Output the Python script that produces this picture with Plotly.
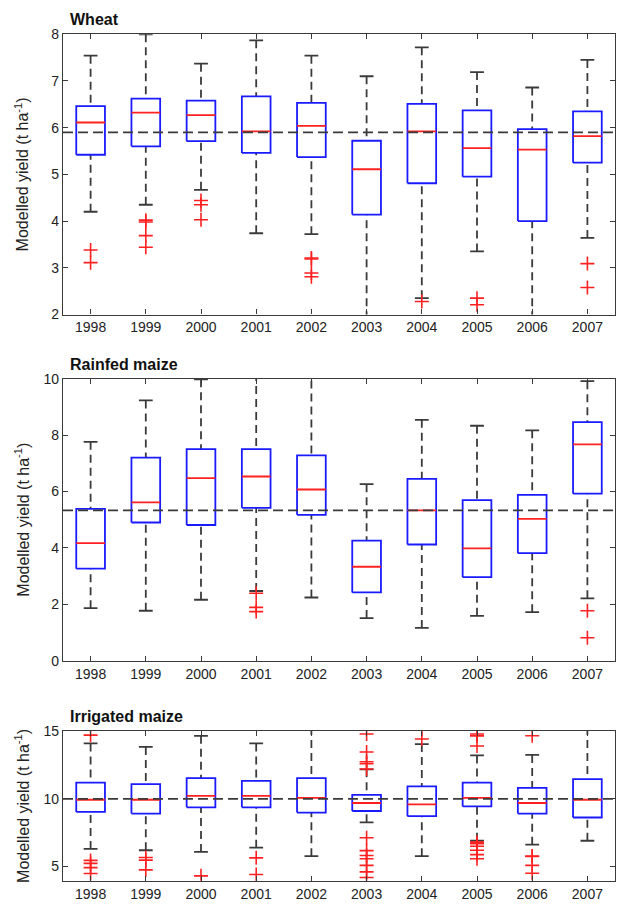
import plotly.graph_objects as go

years = ['1998', '1999', '2000', '2001', '2002', '2003', '2004', '2005', '2006', '2007']

# Wheat
wheat_q1 = [5.42, 5.60, 5.71, 5.46, 5.37, 4.14, 4.81, 4.95, 4.00, 5.25]
wheat_med = [6.11, 6.32, 6.27, 5.92, 6.04, 5.11, 5.92, 5.56, 5.53, 5.82]
wheat_q3 = [6.46, 6.62, 6.58, 6.67, 6.53, 5.72, 6.51, 6.37, 5.97, 6.35]
wheat_lo = [4.20, 4.35, 4.67, 3.74, 3.72, 1.90, 2.35, 3.35, 1.90, 3.64]
wheat_hi = [7.54, 8.00, 7.37, 7.87, 7.54, 7.10, 7.72, 7.19, 6.86, 7.45]
wheat_out = [[3.38, 3.11], [4.02, 3.98, 3.69, 3.44], [4.44, 4.35, 4.03], [],
             [3.21, 3.19, 2.89, 2.81], [], [2.28], [2.35, 2.21], [], [3.09, 2.58]]
wheat_ref = 5.9

# Rainfed maize
rain_q1 = [3.26, 4.90, 4.81, 5.42, 5.17, 2.42, 4.12, 2.96, 3.81, 5.92]
rain_med = [4.17, 5.61, 6.47, 6.53, 6.07, 3.33, 5.33, 3.98, 5.03, 7.67]
rain_q3 = [5.38, 7.20, 7.50, 7.50, 7.28, 4.26, 6.45, 5.69, 5.88, 8.46]
rain_lo = [1.86, 1.77, 2.16, 2.47, 2.24, 1.51, 1.16, 1.59, 1.72, 2.21]
rain_hi = [7.76, 9.23, 9.98, 10.2, 10.4, 6.26, 8.54, 8.33, 8.17, 9.91]
rain_out = [[], [], [], [2.39, 1.89, 1.74], [], [], [], [], [], [1.77, 0.81]]
rain_ref = 5.33

# Irrigated maize
irr_q1 = [9.03, 8.91, 9.37, 9.37, 8.98, 9.10, 8.72, 9.44, 8.91, 8.62]
irr_med = [9.93, 9.93, 10.22, 10.22, 10.07, 9.69, 9.59, 10.07, 9.69, 9.93]
irr_q3 = [11.19, 11.09, 11.53, 11.33, 11.53, 10.29, 10.92, 11.19, 10.80, 11.45]
irr_lo = [6.30, 6.20, 6.08, 6.39, 5.76, 8.26, 5.76, 6.90, 6.61, 6.90]
irr_hi = [14.09, 13.83, 14.65, 14.09, 15.3, 12.18, 14.04, 13.20, 13.24, 15.3]
irr_out = [[14.70, 5.45, 5.23, 4.92, 4.48], [5.67, 5.47, 4.75], [4.31], [5.64, 4.41], [],
           [14.79, 13.46, 12.74, 12.59, 12.20, 7.12, 6.17, 5.81, 5.57, 5.08, 4.60, 4.19],
           [15.1, 14.42], [14.78, 14.65, 13.90, 6.80, 6.68, 6.49, 6.20, 5.88, 5.57],
           [14.66, 5.78, 5.74, 5.08, 4.50], []]
irr_ref = 10.0

titles = ['Wheat', 'Rainfed maize', 'Irrigated maize']

BOX_HW = 0.26
CAP_HW = 0.125
DARK = '#3a3a3a'

fig = go.Figure()


def add_panel(idx, q1, med, q3, lo, hi, out, ref):
    xa = 'x' if idx == 1 else f'x{idx}'
    ya = 'y' if idx == 1 else f'y{idx}'
    n = len(years)
    pos = [i + 1 for i in range(n)]
    wx, wy = [], []
    cx, cy = [], []
    bx, by = [], []
    mx, my = [], []
    ox, oy = [], []
    for i in range(n):
        p = pos[i]
        wx += [p, p, None, p, p, None]
        wy += [hi[i], q3[i], None, lo[i], q1[i], None]
        cx += [p - CAP_HW, p + CAP_HW, None, p - CAP_HW, p + CAP_HW, None]
        cy += [hi[i], hi[i], None, lo[i], lo[i], None]
        bx += [p - BOX_HW, p + BOX_HW, p + BOX_HW, p - BOX_HW, p - BOX_HW, None]
        by += [q1[i], q1[i], q3[i], q3[i], q1[i], None]
        mx += [p - BOX_HW, p + BOX_HW, None]
        my += [med[i], med[i], None]
        for v in out[i]:
            ox.append(p)
            oy.append(v)
    common = dict(xaxis=xa, yaxis=ya, showlegend=False, hoverinfo='skip')
    fig.add_trace(go.Scatter(x=wx, y=wy, mode='lines',
                             line=dict(color=DARK, width=1.8, dash='8px,5px'), **common))
    fig.add_trace(go.Scatter(x=cx, y=cy, mode='lines',
                             line=dict(color=DARK, width=1.8), **common))
    fig.add_trace(go.Scatter(x=bx, y=by, mode='lines',
                             line=dict(color='#1a1aff', width=1.8), **common))
    fig.add_trace(go.Scatter(x=mx, y=my, mode='lines',
                             line=dict(color='#ff2020', width=1.8), **common))
    fig.add_trace(go.Scatter(x=[0.5, 10.5], y=[ref, ref], mode='lines',
                             line=dict(color=DARK, width=1.8, dash='10px,5px'), **common))
    fig.add_trace(go.Scatter(x=ox, y=oy, mode='markers',
                             marker=dict(symbol='cross-thin', size=10, color='#ff2020',
                                         line=dict(color='#ff2020', width=1.6)),
                             cliponaxis=True, **common))


add_panel(1, wheat_q1, wheat_med, wheat_q3, wheat_lo, wheat_hi, wheat_out, wheat_ref)
add_panel(2, rain_q1, rain_med, rain_q3, rain_lo, rain_hi, rain_out, rain_ref)
add_panel(3, irr_q1, irr_med, irr_q3, irr_lo, irr_hi, irr_out, irr_ref)

W, H = 617, 912
xdom = [63 / W, 615 / W]
panels_px = [(26.7, 312.0), (377.3, 664.3), (736.0, 888.3)]
ydoms = [[1 - b / H, 1 - t / H] for t, b in panels_px]
yranges = [[2, 8], [0, 10], [3.95, 15]]
yticks = [[2, 3, 4, 5, 6, 7, 8], [0, 2, 4, 6, 8, 10], [5, 10, 15]]

FONT = 'Liberation Sans, Arial, sans-serif'
axis_common = dict(showline=True, linecolor=DARK, linewidth=1.2, mirror='ticks',
                   ticks='inside', ticklen=5, tickcolor=DARK, tickwidth=1.2,
                   showgrid=False, zeroline=False,
                   tickfont=dict(family=FONT, size=14, color='#222'))

layout = dict(width=W, height=H, margin=dict(l=0, r=0, t=0, b=0),
              paper_bgcolor='white', plot_bgcolor='white', showlegend=False)
annotations = []
for k in range(3):
    sfx = '' if k == 0 else str(k + 1)
    layout[f'xaxis{sfx}'] = dict(domain=xdom, range=[0.5, 10.5], anchor=f'y{sfx}',
                                 tickvals=list(range(1, 11)), ticktext=years, **axis_common)
    layout[f'yaxis{sfx}'] = dict(domain=ydoms[k], range=yranges[k], anchor=f'x{sfx}',
                                 tickvals=yticks[k], **axis_common)
    t, b = panels_px[k]
    annotations.append(dict(text=f'<b>{titles[k]}</b>', xref='paper', yref='paper',
                            x=68 / W, y=1 - (t - 4) / H, xanchor='left', yanchor='bottom',
                            showarrow=False, font=dict(family=FONT, size=16, color='#111')))
    annotations.append(dict(text='Modelled yield (t ha<sup>-1</sup>)', xref='paper', yref='paper',
                            x=22 / W, y=1 - ((t + b) / 2) / H, xanchor='center', yanchor='middle',
                            textangle=-90, showarrow=False,
                            font=dict(family=FONT, size=16, color='#222')))
layout['annotations'] = annotations
fig.update_layout(**layout)

fig.write_html('out.html')
